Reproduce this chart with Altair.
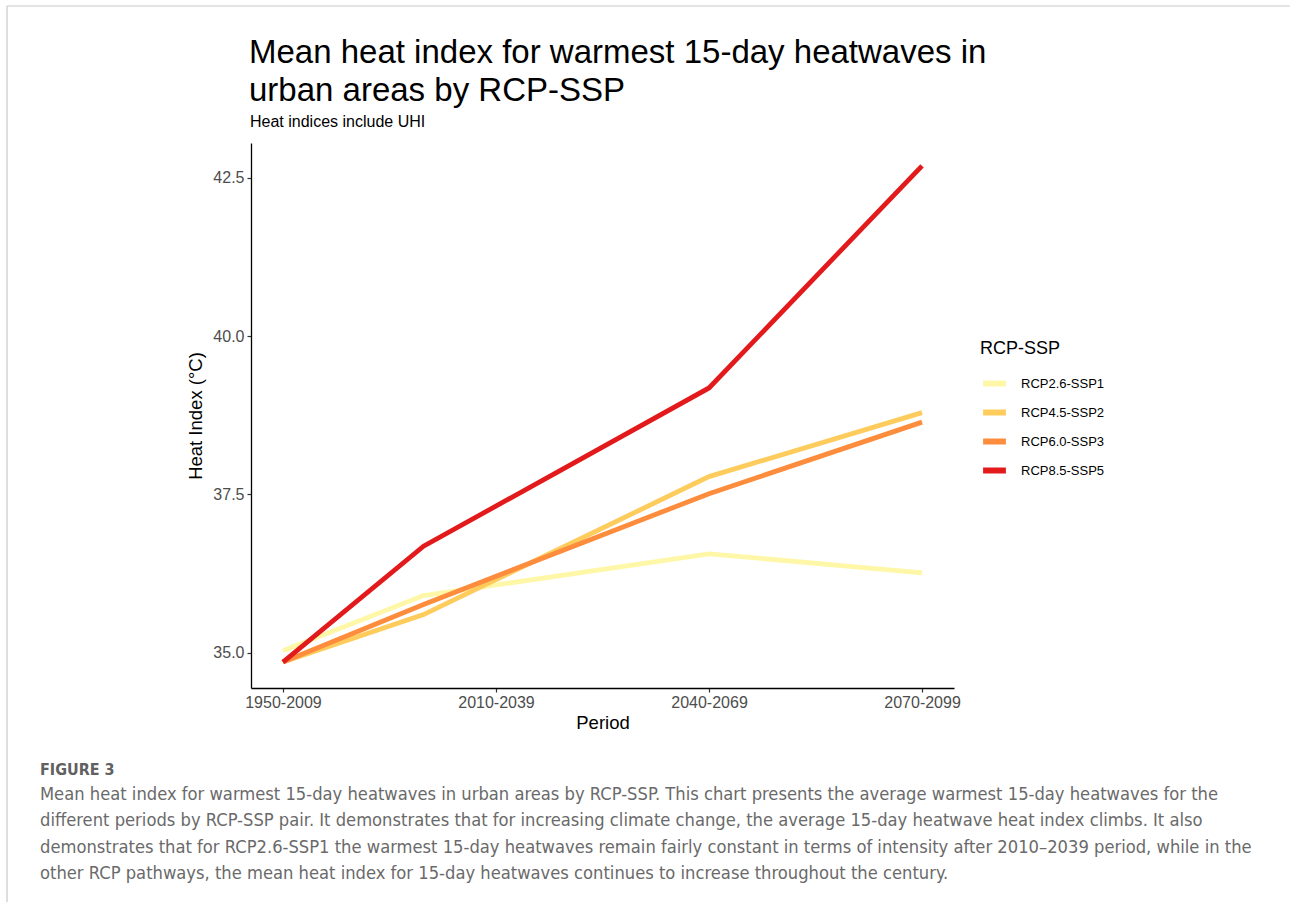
import altair as alt
import pandas as pd

# Periods and where each period's value sits on the x scale
period_labels = ["1950-2009", "2010-2039", "2040-2069", "2070-2099"]
label_ticks = [0, 1, 2, 3]
x_position = [0, 0.66, 2, 3]

# Mean heat index (°C) of the warmest 15-day heatwaves, per pathway
scenarios = ["RCP2.6-SSP1", "RCP4.5-SSP2", "RCP6.0-SSP3", "RCP8.5-SSP5"]
rcp26 = [35.03, 35.90, 36.56, 36.26]
rcp45 = [34.85, 35.60, 37.78, 38.79]
rcp60 = [34.85, 35.76, 37.51, 38.64]
rcp85 = [34.85, 36.68, 39.18, 42.69]
palette = ["#FFF7A8", "#FECC5C", "#FD8D3C", "#E31A1C"]

title_lines = ["Mean heat index for warmest 15-day heatwaves in", "urban areas by RCP-SSP"]
subtitle = "Heat indices include UHI"

caption_head = "FIGURE 3"
caption_lines = [
    "Mean heat index for warmest 15-day heatwaves in urban areas by RCP-SSP. This chart presents the average warmest 15-day heatwaves for the",
    "different periods by RCP-SSP pair. It demonstrates that for increasing climate change, the average 15-day heatwave heat index climbs. It also",
    "demonstrates that for RCP2.6-SSP1 the warmest 15-day heatwaves remain fairly constant in terms of intensity after 2010\u20132039 period, while in the",
    "other RCP pathways, the mean heat index for 15-day heatwaves continues to increase throughout the century.",
]

rows = []
for name, series in zip(scenarios, [rcp26, rcp45, rcp60, rcp85]):
    for i, v in enumerate(series):
        rows.append({"scenario": name, "order": i, "pos": x_position[i], "value": v})
df = pd.DataFrame(rows)

label_expr = " : ".join(
    f"datum.value == {t} ? '{lab}'" for t, lab in zip(label_ticks, period_labels)
) + " : ''"

W, H = 703, 545
FONT = "Liberation Sans"

lines = alt.Chart(df).mark_line(strokeWidth=4.8, strokeCap="butt", strokeJoin="miter").encode(
    x=alt.X(
        "pos:Q",
        scale=alt.Scale(domain=[-0.15, 3.15], nice=False, zero=False),
        axis=alt.Axis(
            values=label_ticks, labelExpr=label_expr, title="Period",
            grid=False, domainColor="black", domainWidth=1.3,
            tickColor="#333333", tickSize=4, tickWidth=1.2,
            labelColor="#4D4D4D", labelFontSize=16, labelFont=FONT, labelPadding=2,
            titleFont=FONT, titleFontSize=18.5, titleFontWeight="normal",
            titleColor="black", titlePadding=3,
        ),
    ),
    y=alt.Y(
        "value:Q",
        scale=alt.Scale(domain=[34.44, 43.05], nice=False, zero=False),
        axis=alt.Axis(
            values=[35, 37.5, 40, 42.5], format=".1f", title="Heat Index (°C)",
            grid=False, domainColor="black", domainWidth=1.3,
            tickColor="#333333", tickSize=4, tickWidth=1.2,
            labelColor="#4D4D4D", labelFontSize=16, labelFont=FONT, labelPadding=3,
            titleFont=FONT, titleFontSize=18.5, titleFontWeight="normal",
            titleColor="black", titlePadding=7,
        ),
    ),
    color=alt.Color(
        "scenario:N",
        scale=alt.Scale(domain=scenarios, range=palette),
        legend=alt.Legend(
            title="RCP-SSP", orient="none", legendX=729, legendY=197,
            titleFont=FONT, titleFontSize=18, titleFontWeight="normal", titleColor="black",
            titlePadding=11,
            labelFont=FONT, labelFontSize=13, labelColor="black", labelOffset=12,
            symbolType="stroke", symbolStrokeWidth=6, symbolSize=520,
            rowPadding=2,
        ),
    ),
    order="order:O",
)

# Heading above the plot
heading = alt.Chart().mark_text(
    text=title_lines, align="left", baseline="middle", font=FONT,
    fontSize=33, lineHeight=38, color="black",
).encode(x=alt.value(-2), y=alt.value(-90))

subheading = alt.Chart().mark_text(
    text=subtitle, align="left", baseline="middle", font=FONT,
    fontSize=16, color="black",
).encode(x=alt.value(-1), y=alt.value(-21))

# Caption block under the chart
caption_title = alt.Chart().mark_text(
    text=caption_head, align="left", baseline="middle", font="DejaVu Sans Condensed",
    fontSize=16, fontWeight="bold", color="#616161",
).encode(x=alt.value(-211), y=alt.value(627))

caption_body = alt.Chart().mark_text(
    text=caption_lines, align="left", baseline="middle", font="DejaVu Sans Condensed",
    fontSize=18.2, lineHeight=26.3, color="#6A6A6A",
).encode(x=alt.value(-211), y=alt.value(652))

# Thin page frame
frame_top = alt.Chart().mark_rule(color="#C8C8C8", strokeWidth=1.2).encode(
    x=alt.value(-244), x2=alt.value(1039), y=alt.value(-137)
)
frame_left = alt.Chart().mark_rule(color="#C8C8C8", strokeWidth=1.2).encode(
    x=alt.value(-244), y=alt.value(-137), y2=alt.value(759)
)

chart = alt.layer(
    lines, heading, subheading, caption_title, caption_body, frame_top, frame_left
).properties(
    width=W, height=H,
    background="white",
    padding={"left": 251, "top": 143, "right": 336, "bottom": 214},
    autosize=alt.AutoSizeParams(type="none"),
).configure_view(strokeWidth=0, stroke=None)

chart.save("out.html", embed_options={"renderer": "svg", "actions": False})
